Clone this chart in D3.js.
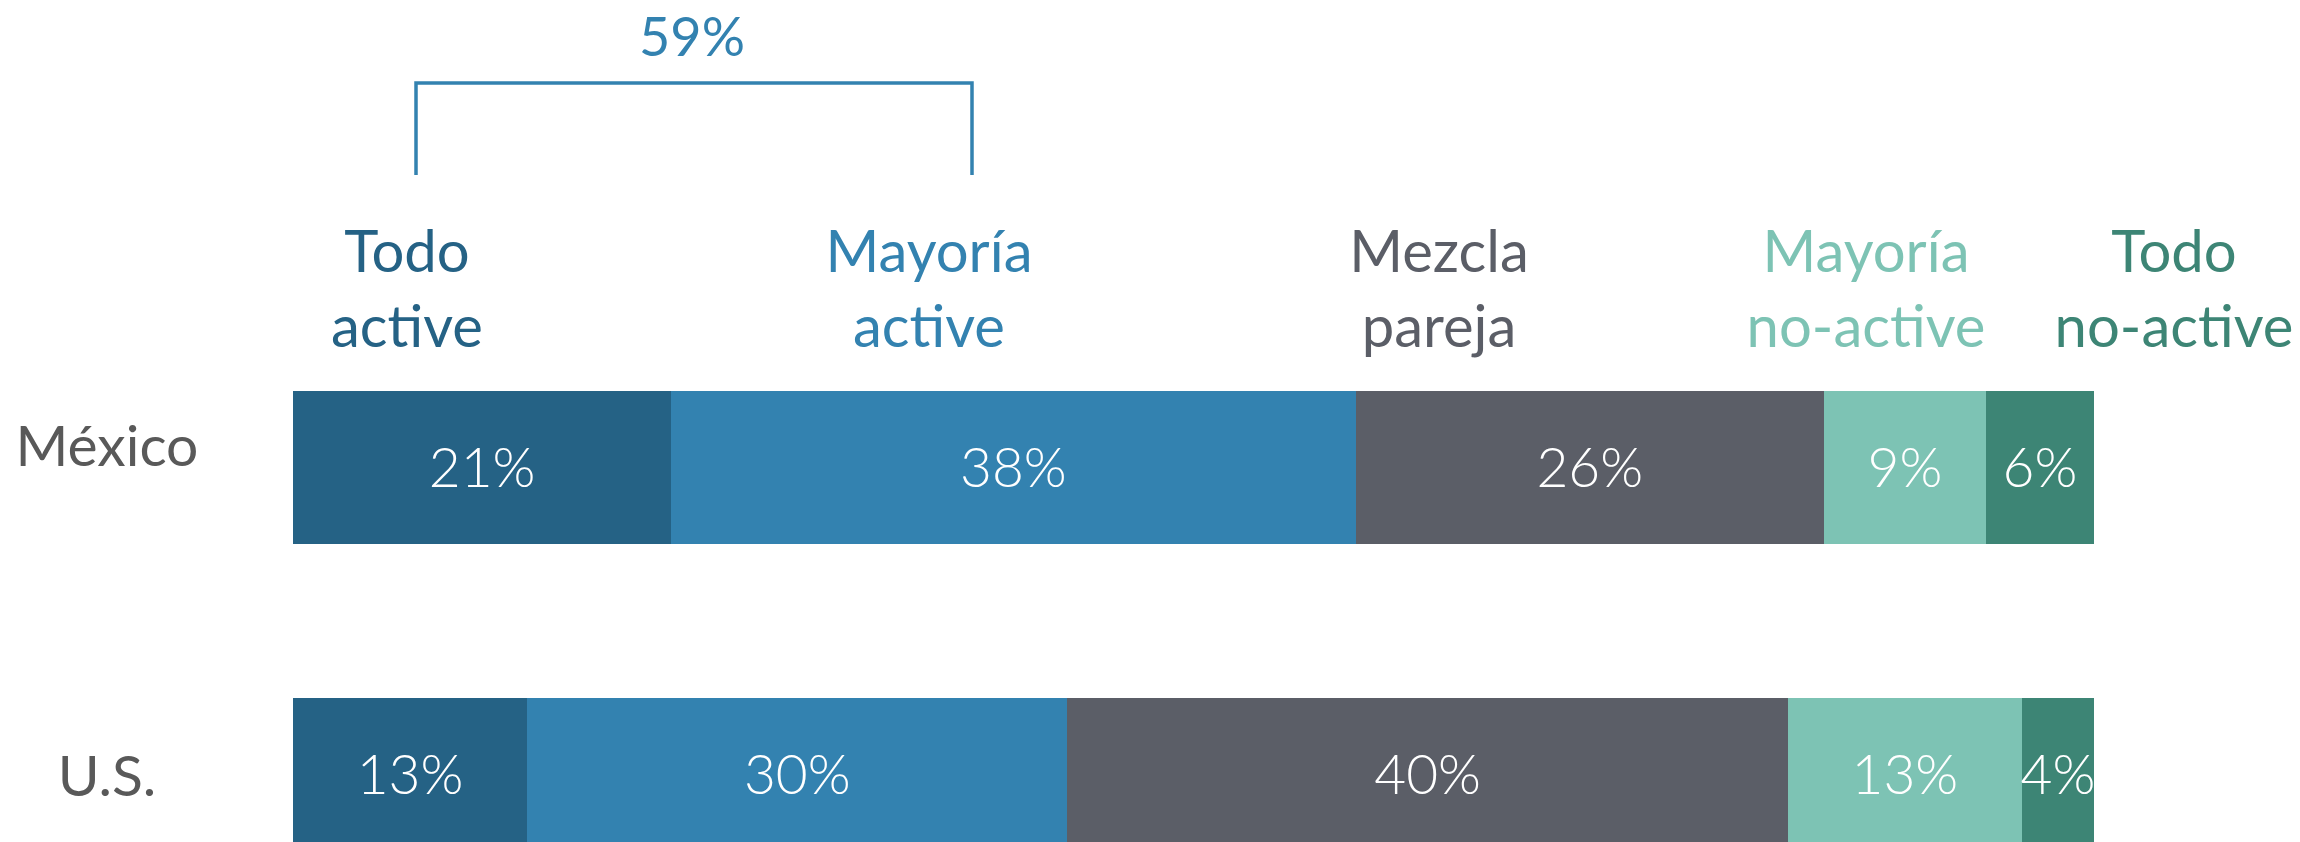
<!DOCTYPE html>
<html>
<head>
<meta charset="utf-8">
<script src="https://cdn.jsdelivr.net/npm/d3@7"></script>
<style>
  body { margin: 0; background: #fff; }
  svg { display: block; font-family: Lato, "Open Sans", sans-serif; }
</style>
</head>
<body>
<svg id="chart"></svg>
<script>
// Data
const categories = ['Todo active', 'Mayoría active', 'Mezcla pareja', 'Mayoría no-active', 'Todo no-active'];
const headerLines = [['Todo', 'active'], ['Mayoría', 'active'], ['Mezcla', 'pareja'], ['Mayoría', 'no-active'], ['Todo', 'no-active']];
const countries = ['México', 'U.S.'];
const mexicoValues = [21, 38, 26, 9, 6];
const usValues = [13, 30, 40, 13, 4];
const bracketLabel = '59%';

const colors = ['#256285', '#3382b0', '#5b5e67', '#7dc3b4', '#3d8575'];

// Layout
const width = 2300, height = 842;
const headerX = [407, 929, 1439, 1866, 2174];

const svg = d3.select('#chart')
  .attr('width', width)
  .attr('height', height);

// build table for stack
const table = countries.map((c, i) => {
  const row = {country: c};
  const vals = i === 0 ? mexicoValues : usValues;
  categories.forEach((k, j) => row[k] = vals[j]);
  return row;
});

const series = d3.stack().keys(categories)(table);

const xScale = d3.scaleLinear()
  .domain([0, 100])
  .range([293, 2094]);

const yScale = d3.scaleBand()
  .domain(countries)
  .range([391, 851])
  .paddingInner(0.5);

const labelY = d3.scalePoint()
  .domain(countries)
  .range([445, 775]);

const colorScale = d3.scaleOrdinal()
  .domain(categories)
  .range(colors);

// Bars
const groups = svg.selectAll('.series')
  .data(series)
  .join('g')
  .attr('class', 'series')
  .attr('fill', d => colorScale(d.key));

groups.selectAll('rect')
  .data(d => d)
  .join('rect')
  .attr('x', d => Math.round(xScale(d[0])))
  .attr('y', d => yScale(d.data.country))
  .attr('width', d => Math.round(xScale(d[1])) - Math.round(xScale(d[0])))
  .attr('height', yScale.bandwidth())
  .attr('shape-rendering', 'crispEdges');

// value labels
groups.selectAll('text')
  .data(d => d)
  .join('text')
  .attr('x', d => (xScale(d[0]) + xScale(d[1])) / 2)
  .attr('y', d => yScale(d.data.country) + yScale.bandwidth() / 2)
  .attr('dy', '0.36em')
  .attr('text-anchor', 'middle')
  .attr('fill', '#fff')
  .attr('font-size', 55)
  .attr('font-weight', 300)
  .text(d => (d[1] - d[0]) + '%');

// Country labels
svg.selectAll('.country')
  .data(countries)
  .join('text')
  .attr('class', 'country')
  .attr('x', 107)
  .attr('y', d => labelY(d))
  .attr('dy', '0.36em')
  .attr('text-anchor', 'middle')
  .attr('fill', '#595959')
  .attr('font-size', 57)
  .text(d => d);

// Column headers
const headers = svg.selectAll('.header')
  .data(categories)
  .join('text')
  .attr('class', 'header')
  .attr('text-anchor', 'middle')
  .attr('fill', d => colorScale(d))
  .attr('font-size', 58);

headers.selectAll('tspan')
  .data((d, i) => headerLines[i].map(t => ({t, x: headerX[i]})))
  .join('tspan')
  .attr('x', d => d.x)
  .attr('y', (d, j) => 272 + j * 75)
  .text(d => d.t);

// Bracket over the two "active" columns
svg.append('path')
  .attr('d', 'M416,175V83H972V175')
  .attr('fill', 'none')
  .attr('stroke', colorScale(categories[1]))
  .attr('stroke-width', 3.5);

svg.append('text')
  .attr('x', 692)
  .attr('y', 56)
  .attr('text-anchor', 'middle')
  .attr('fill', colorScale(categories[1]))
  .attr('font-size', 54)
  .text(bracketLabel);
</script>
</body>
</html>
